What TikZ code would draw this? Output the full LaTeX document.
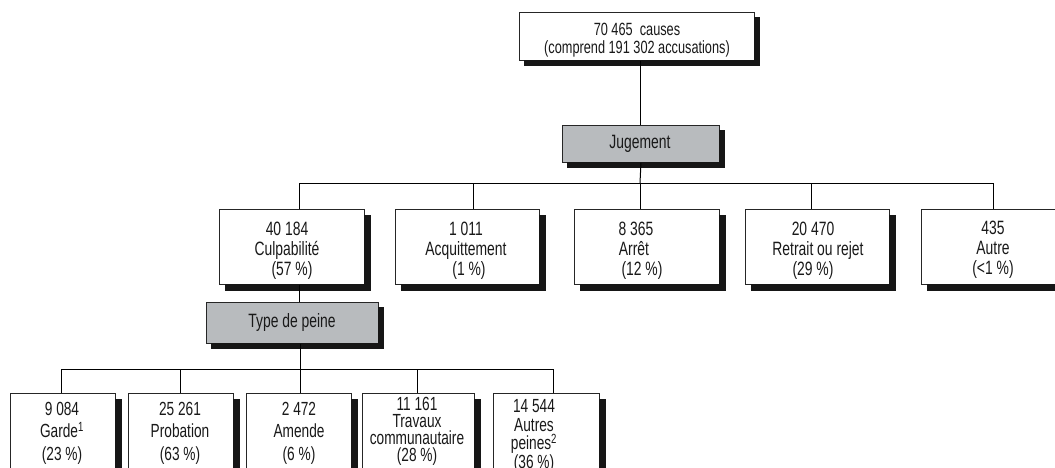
\documentclass[tikz,border=0pt]{standalone}
\usepackage{fontspec}
\setmainfont{Liberation Sans}[FakeStretch=0.72]
\definecolor{boxgray}{RGB}{184,187,190}
\definecolor{shadowcol}{RGB}{22,22,22}
\tikzset{
  txt/.style={font=\fontsize{19.3}{20}\selectfont, align=center, inner sep=0pt, text=black!90},
  txtb/.style={txt, font=\fontsize{19}{22.5}\selectfont},
  txtc/.style={txt, font=\fontsize{19}{17}\selectfont},
  box/.style={draw=black!85, fill=white, line width=0.9pt, inner sep=0pt, anchor=north west},
  gbox/.style={box, fill=boxgray},
  shadowfill/.style={fill=shadowcol, draw=shadowcol, line width=0.5pt},
  conn/.style={line width=1pt}
}
% #1 shadow offset, #2 name, #3 style, #4 x, #5 y, #6 width, #7 height
\newcommand\shadowedbox[7]{%
  \node[#3, minimum width=#6pt, minimum height=#7pt] (#2) at (#4,#5) {};
  \filldraw[shadowfill] ({#4+#6},{#5+#1}) rectangle ({#4+#6+#1},{#5+#7+#1});
  \filldraw[shadowfill] ({#4+#1},{#5+#7}) rectangle ({#4+#6+#1},{#5+#7+#1});
}
\begin{document}
\begin{tikzpicture}[x=1pt,y=-1pt]
\useasboundingbox (0,0) rectangle (1055,468);
% top
\shadowedbox{5}{top}{box}{519}{12}{235}{48}
\node[txt, font=\fontsize{17.7}{18.5}\selectfont] (toptxt) at (637,40) {70 465~~causes\\(comprend 191 302 accusations)};
\shadowedbox{5}{jug}{gbox}{562}{125}{157}{37}
\node[txt] (jugtxt) at (640,144) {Jugement};
% level 2
\shadowedbox{6}{culp}{box}{219}{209}{145}{75}
\shadowedbox{6}{acq}{box}{395}{209}{144}{75}
\shadowedbox{6}{arr}{box}{574}{209}{145}{75}
\shadowedbox{6}{ret}{box}{745}{209}{144}{75}
\shadowedbox{6}{aut}{box}{921}{209}{145}{75}
\node[txt] (culptxt) at (287,251) {40 184\\Culpabilité\\\hspace*{10pt}(57 \%)};
\node[txt] (acqtxt) at (466,251) {1 011\\Acquittement\\\hspace*{6pt}(1 \%)};
\node[txt] (arrtxt) at (636,251) {8 365\\\hspace*{-4pt}Arrêt\\\hspace*{12pt}(12 \%)};
\node[txt] (rettxt) at (818,251) {\hspace*{-10pt}20 470\\Retrait ou rejet\\\hspace*{-10pt}(29 \%)};
\node[txt] (auttxt) at (993,250) {435\\Autre\\(<1 \%)};
% type de peine
\shadowedbox{5}{type}{gbox}{206}{302}{172}{41}
\node[txt] (typetxt) at (292,323) {Type de peine};
% level 3
\shadowedbox{6}{gar}{box}{10}{393}{105}{80}
\shadowedbox{6}{pro}{box}{128}{393}{105}{80}
\shadowedbox{6}{ame}{box}{246}{393}{105}{80}
\shadowedbox{6}{tra}{box}{362}{393}{112}{80}
\shadowedbox{6}{apn}{box}{493}{393}{106}{80}
\node[txtb] (gartxt) at (62,433) {9 084\\Garde\textsuperscript{1}\\(23 \%)};
\node[txtb] (protxt) at (180,433) {25 261\\Probation\\(63 \%)};
\node[txtb] (ametxt) at (299,433) {2 472\\Amende\\(6 \%)};
\node[txtc] (tratxt) at (417,431) {11 161\\Travaux\\communautaire\\(28 \%)};
\node[txtc, font=\fontsize{19}{18.5}\selectfont] (apntxt) at (534,436) {14 544\\Autres\\peines\textsuperscript{2}\\(36 \%)};
% connectors
\coordinate (bus1L) at (299,183);
\coordinate (bus1R) at (993,183);
\coordinate (b2) at (473,183);
\coordinate (b3) at (640,183);
\coordinate (b4) at (811,183);
\draw[conn] (top.south -| jug.north) -- (jug.north);
\draw[conn] (jug.south) -- (b3);
\draw[conn] (bus1L) -- (bus1R);
\draw[conn] (bus1L) -- (bus1L |- culp.north);
\draw[conn] (b2) -- (b2 |- acq.north);
\draw[conn] (b3) -- (b3 |- arr.north);
\draw[conn] (b4) -- (b4 |- ret.north);
\draw[conn] (bus1R) -- (bus1R |- aut.north);
\coordinate (c0) at (300,369);
\coordinate (bus2L) at (61,369);
\coordinate (bus2R) at (553,369);
\coordinate (c2) at (180,369);
\coordinate (c4) at (417,369);
\draw[conn] (bus1L |- culp.south) -- (bus1L |- type.north);
\draw[conn] (c0 |- type.south) -- (c0);
\draw[conn] (bus2L) -- (bus2R);
\draw[conn] (bus2L) -- (bus2L |- gar.north);
\draw[conn] (c2) -- (c2 |- pro.north);
\draw[conn] (c0) -- (c0 |- ame.north);
\draw[conn] (c4) -- (c4 |- tra.north);
\draw[conn] (bus2R) -- (bus2R |- apn.north);
\end{tikzpicture}
\end{document}
